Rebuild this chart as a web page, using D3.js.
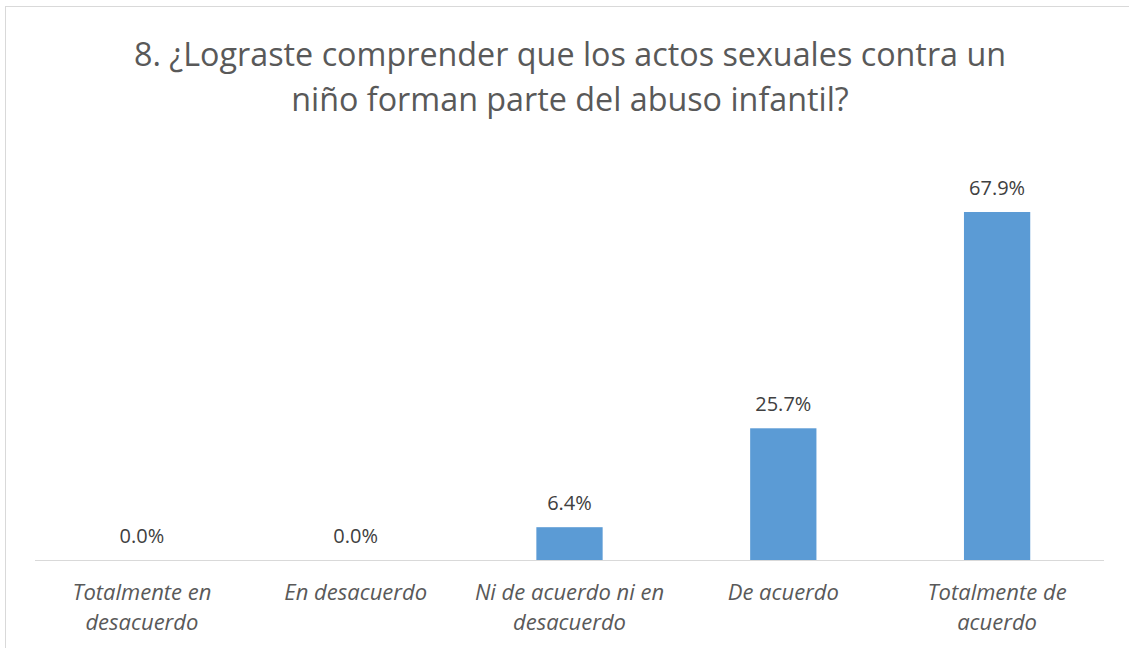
<!DOCTYPE html>
<html>
<head>
<meta charset="utf-8">
<script src="https://cdn.jsdelivr.net/npm/d3@7"></script>
<style>
body { margin: 0; background: #fff; }
text { font-family: "Open Sans", "Noto Sans", sans-serif; }
</style>
</head>
<body>
<div id="chart"></div>
<script>
var titleLines = ["8. ¿Lograste comprender que los actos sexuales contra un", "niño forman parte del abuso infantil?"];
var categories = [["Totalmente en", "desacuerdo"], ["En desacuerdo"], ["Ni de acuerdo ni en", "desacuerdo"], ["De acuerdo"], ["Totalmente de", "acuerdo"]];
var values = [0.0, 0.0, 6.4, 25.7, 67.9];

var width = 1129, height = 648;
var svg = d3.select('#chart').append('svg')
	.attr('width', width)
	.attr('height', height);

// chart frame
svg.append('rect')
	.attr('x', 5.5).attr('y', 6.5)
	.attr('width', width - 4).attr('height', height)
	.attr('fill', '#fff')
	.attr('stroke', '#d9d9d9');

svg.selectAll('.title')
	.data(titleLines)
	.enter()
	.append('text')
	.attr('class', 'title')
	.attr('x', 570)
	.attr('y', function(d, i){ return 66 + i * 45; })
	.attr('text-anchor', 'middle')
	.attr('font-size', '32.3px')
	.attr('fill', '#595959')
	.text(function(d){ return d; });

var x = d3.scaleBand()
	.domain(d3.range(categories.length))
	.range([35, 1104])
	.paddingInner(0.69)
	.paddingOuter(0.345);

var baseY = 560;
var y = d3.scaleLinear()
	.domain([0, 80])
	.range([baseY, baseY - 410]);

svg.selectAll('.bar')
	.data(values)
	.enter()
	.append('rect')
	.attr('class', 'bar')
	.attr('x', function(d, i){ return x(i); })
	.attr('width', x.bandwidth())
	.attr('y', function(d){ return y(d); })
	.attr('height', function(d){ return baseY - y(d); })
	.attr('fill', '#5b9bd5');

svg.append('line')
	.attr('x1', 35).attr('x2', 1104)
	.attr('y1', baseY + 0.5).attr('y2', baseY + 0.5)
	.attr('stroke', '#d9d9d9')
	.attr('stroke-width', 1);

svg.selectAll('.val')
	.data(values)
	.enter()
	.append('text')
	.attr('class', 'val')
	.attr('x', function(d, i){ return x(i) + x.bandwidth() / 2; })
	.attr('y', function(d){ return y(d) - 17; })
	.attr('text-anchor', 'middle')
	.attr('font-size', '20px')
	.attr('fill', '#404040')
	.text(function(d){ return d.toFixed(1) + '%'; });

var cat = svg.selectAll('.cat')
	.data(categories)
	.enter()
	.append('text')
	.attr('class', 'cat')
	.attr('text-anchor', 'middle')
	.attr('font-size', '22px')
	.attr('font-style', 'italic')
	.attr('fill', '#595959');

cat.selectAll('tspan')
	.data(function(d, i){ return d.map(function(s){ return {s: s, i: i}; }); })
	.enter()
	.append('tspan')
	.attr('x', function(d){ return x(d.i) + x.bandwidth() / 2; })
	.attr('y', function(d, j){ return 600 + j * 30; })
	.text(function(d){ return d.s; });
</script>
</body>
</html>
